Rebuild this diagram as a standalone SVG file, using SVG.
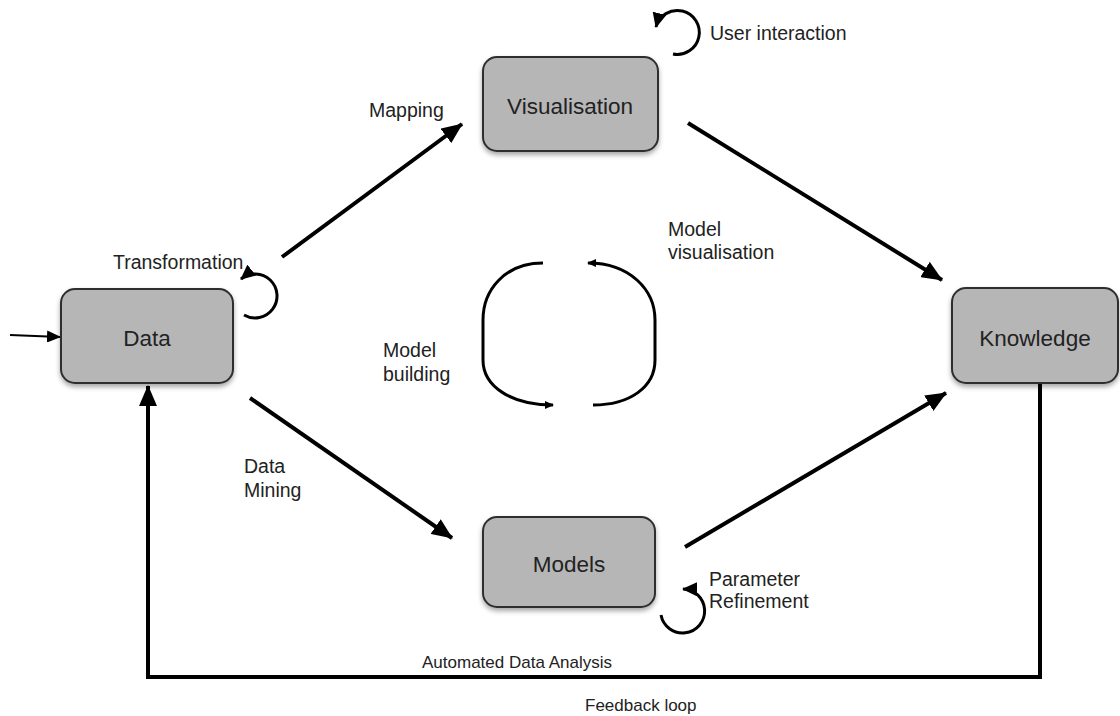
<svg xmlns="http://www.w3.org/2000/svg" width="1120" height="716" viewBox="0 0 1120 716">
<style>
.node rect{fill:#b6b6b6;stroke:#2e2e2e;stroke-width:2;filter:url(#sh)}
.node text{font-family:"Liberation Sans",Arial,sans-serif;font-size:22.5px;fill:#222;text-anchor:middle}
.lbl{font-family:"Liberation Sans",Arial,sans-serif;font-size:19.5px;fill:#222}
.lbs{font-family:"Liberation Sans",Arial,sans-serif;font-size:17px;fill:#222}
.conn{fill:none;stroke:#000;stroke-width:4}
.loop{fill:none;stroke:#000;stroke-width:3}
.thin{fill:none;stroke:#000;stroke-width:2}
</style>
<defs>
<filter id="sh" x="-10%" y="-10%" width="120%" height="130%">
<feDropShadow dx="0" dy="3" stdDeviation="2.5" flood-color="#000" flood-opacity="0.35"/>
</filter>
<marker id="ah" markerUnits="userSpaceOnUse" markerWidth="22" markerHeight="18" refX="20" refY="9" orient="auto">
<path d="M0,0 L21,9 L0,18 z" fill="#000"/>
</marker>
<marker id="ahs" markerUnits="userSpaceOnUse" markerWidth="14" markerHeight="12" refX="13" refY="6" orient="auto">
<path d="M0,0 L14,6 L0,12 z" fill="#000"/>
</marker>
<marker id="ahl" markerUnits="userSpaceOnUse" markerWidth="16" markerHeight="14" refX="14" refY="7" orient="auto">
<path d="M0,0 L15,7 L0,14 z" fill="#000"/>
</marker>
<marker id="aht" markerUnits="userSpaceOnUse" markerWidth="10" markerHeight="8" refX="8" refY="4" orient="auto">
<path d="M0,0 L9,4 L0,8 z" fill="#000"/>
</marker>
</defs>
<rect width="1120" height="716" fill="#fff"/>

<g id="connectors">
<line class="conn" x1="282" y1="257" x2="462" y2="124" marker-end="url(#ah)"/>
<line class="conn" x1="688" y1="123" x2="942" y2="280" marker-end="url(#ah)"/>
<line class="conn" x1="250" y1="398" x2="452" y2="538" marker-end="url(#ah)"/>
<line class="conn" x1="685" y1="547" x2="946" y2="393" marker-end="url(#ah)"/>
<path class="conn" d="M1040,383 V677 H148 V386" marker-end="url(#ah)"/>
<line class="thin" x1="10" y1="335" x2="60" y2="337" marker-end="url(#ahs)"/>
<path class="loop" d="M244,315 A22,22 0 1 0 241,279" marker-end="url(#ahl)"/>
<path class="loop" d="M673,54 A22,22 0 1 0 656,27" marker-end="url(#ahl)"/>
<path class="loop" d="M661,615 A22,22 0 1 0 683,589" marker-end="url(#ahl)"/>
<path class="loop" d="M543,263 C505,263 483,290 483,320 L483,360 C483,387 512,405 553,405" marker-end="url(#aht)"/>
<path class="loop" d="M593,405 C630,405 655,387 655,360 L655,320 C655,290 630,263 588,263" marker-end="url(#aht)"/>
</g>

<g id="node-data" class="node">
<rect x="61" y="289" width="172" height="94" rx="14"/>
<text x="147" y="346">Data</text>
</g>
<g id="node-visualisation" class="node">
<rect x="483" y="57" width="175" height="94" rx="14"/>
<text x="570" y="114">Visualisation</text>
</g>
<g id="node-knowledge" class="node">
<rect x="952" y="288" width="166" height="95" rx="14"/>
<text x="1035" y="346">Knowledge</text>
</g>
<g id="node-models" class="node">
<rect x="483" y="517" width="172" height="90" rx="14"/>
<text x="569" y="572">Models</text>
</g>

<g id="labels">
<text class="lbl" x="710" y="40">User interaction</text>
<text class="lbl" x="369" y="117">Mapping</text>
<text class="lbl" x="113" y="269">Transformation</text>
<text class="lbl" x="668" y="236">Model</text>
<text class="lbl" x="668" y="259">visualisation</text>
<text class="lbl" x="383" y="357">Model</text>
<text class="lbl" x="383" y="381">building</text>
<text class="lbl" x="244" y="473">Data</text>
<text class="lbl" x="244" y="497">Mining</text>
<text class="lbl" x="709" y="586">Parameter</text>
<text class="lbl" x="709" y="608">Refinement</text>
<text class="lbs" x="422" y="668">Automated Data Analysis</text>
<text class="lbs" x="585" y="711">Feedback loop</text>
</g>
</svg>
